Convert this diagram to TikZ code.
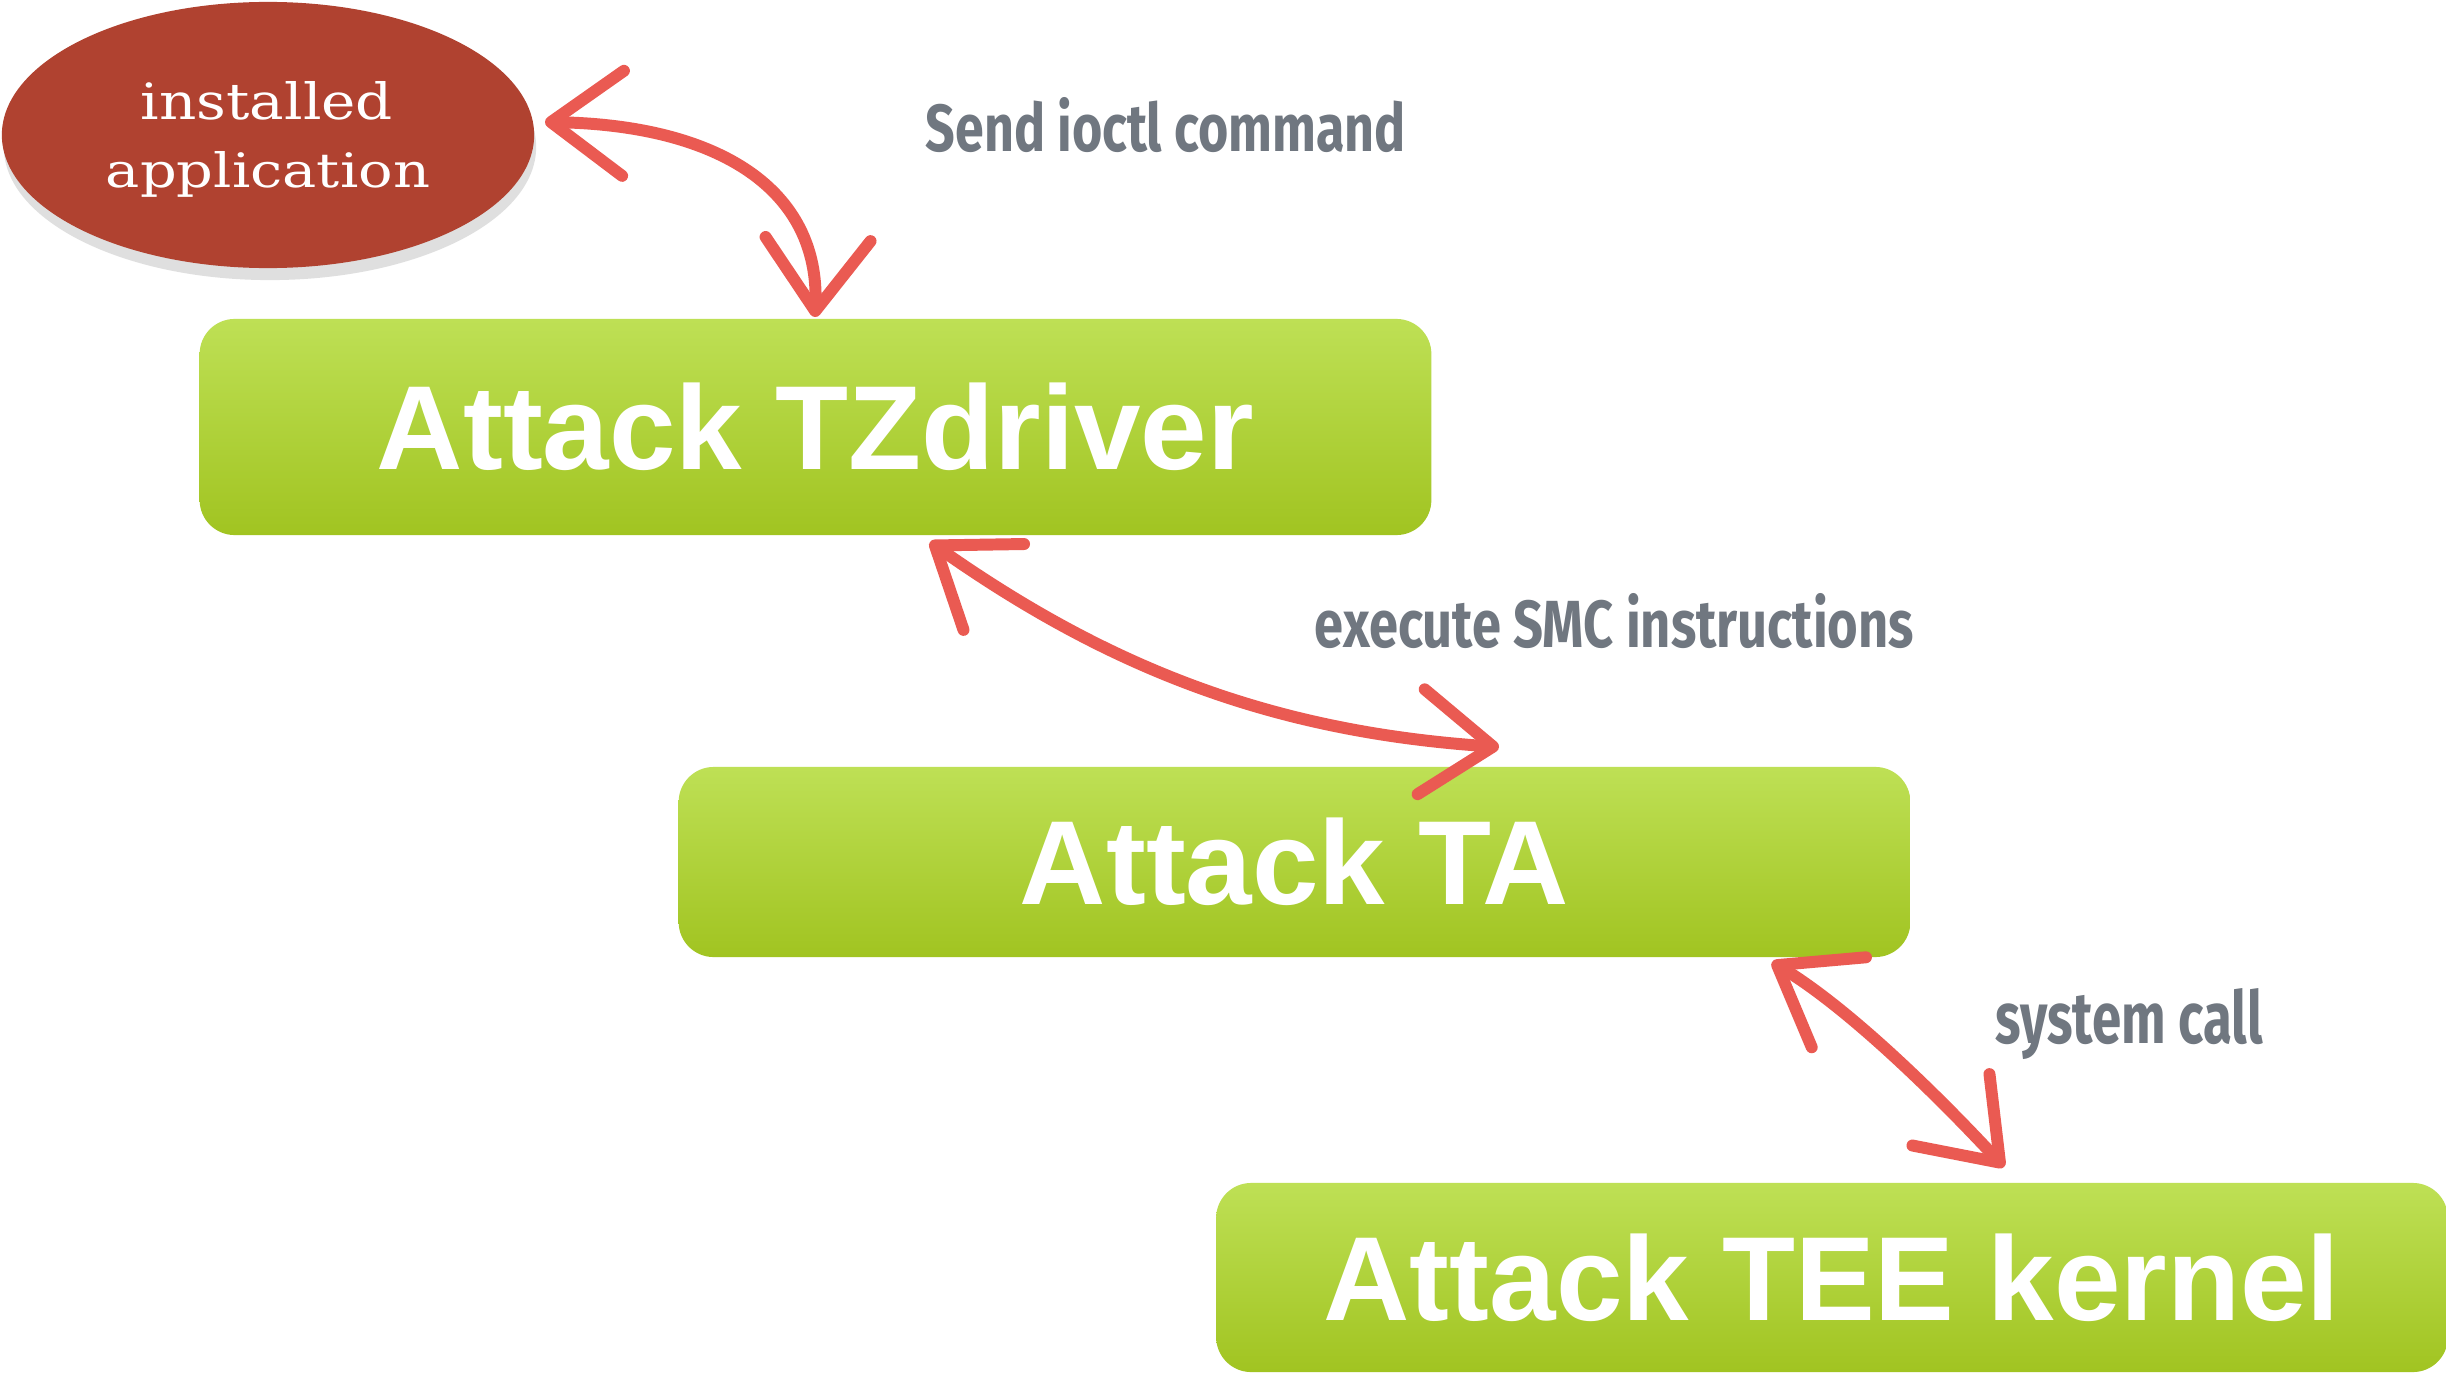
\documentclass[tikz,border=0pt]{standalone}
\usepackage{fontspec}
\setmainfont{Liberation Sans}
\newfontfamily\labelfont{Fira Sans}
\newfontfamily\appfont{DejaVu Serif}
\usetikzlibrary{arrows.meta,shadows,shapes.geometric}
\definecolor{boxtop}{RGB}{190,224,85}
\definecolor{boxbot}{RGB}{161,196,33}
\definecolor{appred}{RGB}{176,66,48}
\definecolor{arrowred}{RGB}{234,90,82}
\definecolor{labelgray}{RGB}{112,119,128}
\begin{document}
\begin{tikzpicture}[x=0.01cm,y=-0.01cm,
  stepbox/.style={shade, top color=boxtop, bottom color=boxbot,
    rounded corners=0.35cm, inner sep=0pt, minimum width=12.31cm,
    text=white, font=\bfseries\fontsize{34}{34}\selectfont},
  lbl/.style={inner sep=0pt, text=labelgray, font=\labelfont\bfseries},
  apptext/.style={inner sep=0pt, text=white, font=\appfont},
  arr/.style={draw=arrowred, line width=3.4pt, line cap=round,
    {Straight Barb[length=7.2mm,width=10.5mm,round]}-{Straight Barb[length=7.2mm,width=10.5mm,round]}}
]
\useasboundingbox[fill=white] (0,0) rectangle (2446,1373);

% installed application
\node[ellipse, fill=appred, inner sep=0pt, minimum width=5.32cm, minimum height=2.66cm,
  drop shadow={opacity=0.25, shadow xshift=0.2mm, shadow yshift=-1.2mm}] (app) at (268,135) {};
\node[apptext, anchor=base] (t1) at (267,120) {\resizebox{2.52cm}{0.38cm}{installed}};
\node[apptext, anchor=base] (t2) at (268,188) {\resizebox{3.24cm}{0.36cm}{application}};

% boxes
\node[stepbox, minimum height=2.16cm] (tz) at (815.5,427) {Attack TZdriver};
\node[stepbox, minimum height=1.90cm] (ta) at (1294.5,862) {Attack TA};
\node[stepbox, minimum height=1.89cm] (tee) at (1832,1277.5) {Attack TEE kernel};

% labels
\node[lbl, anchor=base west] (l1) at (925,152) {\resizebox{4.80cm}{0.54cm}{Send ioctl command}};
\node[lbl, anchor=base west] (l2) at (1314,647) {\resizebox{5.99cm}{0.54cm}{execute SMC instructions}};
\node[lbl, anchor=base west] (l3) at (1995,1043) {\resizebox{2.67cm}{0.55cm}{system call}};

% arrow ends
\coordinate (a1s) at (545,122);
\coordinate (a1e) at (815,317);
\coordinate (a2s) at (930,542);
\coordinate (a2e) at (1499,747);
\coordinate (a3s) at (1772,962);
\coordinate (a3e) at (2004,1167);

\draw[arr] (a1s) .. controls (720,125) and (820,190) .. (a1e);
\draw[arr] (a2s) .. controls (1113,671) and (1277,732) .. (a2e);
\draw[arr] (a3s) .. controls (1850,1009) and (1940,1098) .. (a3e);
\end{tikzpicture}
\end{document}
